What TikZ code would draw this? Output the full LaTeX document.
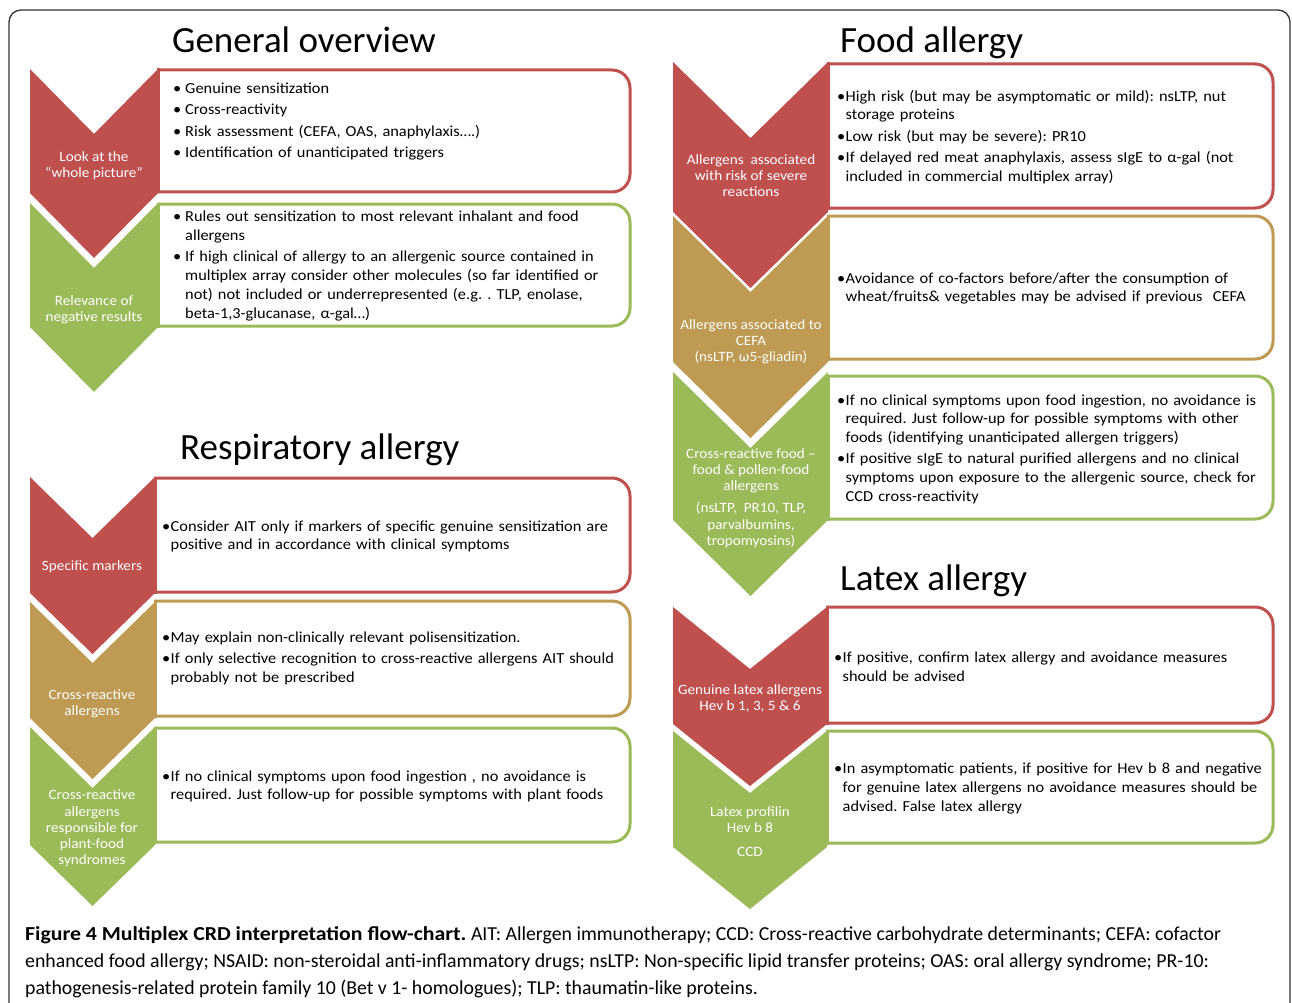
\documentclass[tikz,border=0pt]{standalone}
\usepackage{fontspec}
\setmainfont{Carlito}
\newfontfamily\bodyfont[FakeStretch=1.07]{Carlito}
\definecolor{cred}{HTML}{C0504D}
\definecolor{ctan}{HTML}{BE9A52}
\definecolor{cgrn}{HTML}{9BBB59}
\definecolor{frame}{HTML}{333333}
\frenchspacing
% chevron: colour, left, right, top, side bottom, depth
\newcommand\chev[6]{%
  \fill[#1] (#2,#4) -- ({(#2+#3)/2},{#4+#6}) -- (#3,#4) -- (#3,#5)
     -- ({(#2+#3)/2},{#5+#6}) -- (#2,#5) -- cycle;}
% text box: colour, x1, x2, y1, y2
\newcommand\tbox[5]{%
  \begin{scope}
    \clip ({#2-1},{#4-5}) rectangle ({#3+5},{#5+5});
    \draw[#1, line width=3pt, fill=white, rounded corners=18pt] ({#2-40},#4) rectangle (#3,#5);
  \end{scope}
  \draw[#1, line width=3pt] (#2,{#4-1.5}) -- (#2,{#5+1.5});}
\newcommand\gb[1]{\par\hangindent=12pt\hangafter=1\noindent\makebox[12pt][l]{•}#1\par}
\newcommand\tb[1]{\par\hangindent=8.5pt\hangafter=1\noindent\makebox[8.5pt][l]{•}#1\par}
\begin{document}
\begin{tikzpicture}[x=1pt,y=-1pt,
  title/.style={anchor=base west, inner sep=0pt, font=\fontsize{37pt}{40pt}\selectfont},
  body/.style={anchor=west, inner sep=0pt, align=left, text width=#1, yshift=3.8pt,
     font=\bodyfont\fontsize{15.3pt}{18.7pt}\selectfont\frenchspacing\setlength{\parskip}{2.6pt}},
  chevtext/.style={white, inner sep=0pt, align=center, yshift=-1.5pt,
     font=\bodyfont\fontsize{14.2pt}{16.2pt}\selectfont},
  capline/.style={anchor=base west, inner sep=0pt, font=\fontsize{19.8pt}{22pt}\selectfont\frenchspacing}]
\useasboundingbox (0,0) rectangle (1292,1003);
\fill[white] (0,0) rectangle (1292,1003);
\begin{scope}
\clip (0,0) rectangle (1292,1003);
\draw[frame, line width=1.3pt, rounded corners=12pt] (9,10) rectangle (1290,1060);
\end{scope}

% ---------- General overview ----------
\node[title] (tgen) at (172,53) {General overview};
\tbox{cred}{158}{630}{70}{192}
\tbox{cgrn}{158}{630}{204}{326}
\chev{cred}{30}{158}{69}{193}{65}
\chev{cgrn}{30}{158}{203}{327}{65}
\node[chevtext] (cg1) at (94,164) {Look at the\\“whole picture”};
\node[chevtext] (cg2) at (94,308) {Relevance of\\negative results};
\node[body=520pt] (bg1) at (173,120) {%
\gb{Genuine sensitization}
\gb{Cross-reactivity}
\gb{Risk assessment (CEFA, OAS, anaphylaxis….)}
\gb{Identification of unanticipated triggers}};
\node[body=520pt] (bg2) at (173,264.5) {%
\gb{Rules out sensitization to most relevant inhalant and food\newline allergens}
\gb{If high clinical of allergy to an allergenic source contained in\newline multiplex array consider other molecules (so far identified or\newline not) not included or underrepresented (e.g. . TLP, enolase,\newline beta-1,3-glucanase, α-gal…)}};

% ---------- Respiratory allergy ----------
\node[title] (tresp) at (180,459) {Respiratory allergy};
\tbox{cred}{155}{630}{478}{592}
\tbox{ctan}{155}{630}{601}{716}
\tbox{cgrn}{155}{630}{728}{842}
\chev{cred}{30}{155}{477}{593}{61}
\chev{ctan}{30}{155}{602}{718}{61}
\chev{cgrn}{30}{155}{727}{845}{61}
\node[chevtext] (cr1) at (92,565) {Specific markers};
\node[chevtext] (cr2) at (92,702) {Cross-reactive\\allergens};
\node[chevtext] (cr3) at (92,827) {Cross-reactive\\allergens\\responsible for\\plant-food\\syndromes};
\node[body=520pt] (br1) at (162,535) {%
\tb{Consider AIT only if markers of specific genuine sensitization are\newline positive and in accordance with clinical symptoms}};
\node[body=520pt] (br2) at (162,657) {%
\tb{May explain non-clinically relevant polisensitization.}
\tb{If only selective recognition to cross-reactive allergens AIT should\newline probably not be prescribed}};
\node[body=520pt] (br3) at (162,785) {%
\tb{If no clinical symptoms upon food ingestion , no avoidance is\newline required. Just follow-up for possible symptoms with plant foods}};

% ---------- Food allergy ----------
\node[title] (tfood) at (840,53) {Food allergy};
\tbox{cred}{828}{1273}{64}{208}
\tbox{ctan}{828}{1273}{216}{359}
\tbox{cgrn}{828}{1273}{376}{519}
\chev{cred}{673}{828}{62}{212}{76}
\chev{ctan}{673}{828}{216}{362}{76}
\chev{cgrn}{673}{828}{372}{520}{76}
\node[chevtext] (cf1) at (751,174) {Allergens\ \ associated\\with risk of severe\\reactions};
\node[chevtext] (cf2) at (751,340) {Allergens associated to\\CEFA\\(nsLTP, ω5-gliadin)};
\node[chevtext] (cf3) at (751,496.5) {Cross-reactive food –\\food \& pollen-food\\allergens\\[6pt](nsLTP,\ \ PR10, TLP,\\parvalbumins,\\tropomyosins)};
\node[body=500pt] (bf1) at (837,135.5) {%
\tb{High risk (but may be asymptomatic or mild): nsLTP, nut\newline storage proteins}
\tb{Low risk (but may be severe): PR10}
\tb{If delayed red meat anaphylaxis, assess sIgE to α-gal (not\newline included in commercial multiplex array)}};
\node[body=500pt] (bf2) at (837,287) {%
\tb{Avoidance of co-factors before/after the consumption of\newline wheat/fruits\& vegetables may be advised if previous\ \ CEFA}};
\node[body=500pt] (bf3) at (837,447.5) {%
\tb{If no clinical symptoms upon food ingestion, no avoidance is\newline required. Just follow-up for possible symptoms with other\newline foods (identifying unanticipated allergen triggers)}
\tb{If positive sIgE to natural purified allergens and no clinical\newline symptoms upon exposure to the allergenic source, check for\newline CCD cross-reactivity}};

% ---------- Latex allergy ----------
\node[title] (tlatex) at (840,590) {Latex allergy};
\tbox{cred}{827}{1273}{607}{723}
\tbox{cgrn}{827}{1273}{731}{843}
\chev{cred}{673}{827}{607}{724}{62}
\chev{cgrn}{673}{827}{731}{847}{62}
\node[chevtext] (cl1) at (750,697) {Genuine latex allergens\\Hev b 1, 3, 5 \& 6};
\node[chevtext] (cl2) at (750,830) {Latex profilin\\Hev b 8\\[7pt]CCD};
\node[body=500pt] (bl1) at (834,665) {%
\tb{If positive, confirm latex allergy and avoidance measures\newline should be advised}};
\node[body=500pt] (bl2) at (834,787) {%
\tb{In asymptomatic patients, if positive for Hev b 8 and negative\newline for genuine latex allergens no avoidance measures should be\newline advised. False latex allergy}};

% ---------- Caption ----------
\node[capline] (cap1) at (25,940) {\scalebox{1.1}[1]{\textbf{Figure 4 Multiplex CRD interpretation flow-chart.}} AIT: Allergen immunotherapy; CCD: Cross-reactive carbohydrate determinants; CEFA: cofactor};
\node[capline] (cap2) at (25,967) {enhanced food allergy; NSAID: non-steroidal anti-inflammatory drugs; nsLTP: Non-specific lipid transfer proteins; OAS: oral allergy syndrome; PR-10:};
\node[capline] (cap3) at (25,994) {pathogenesis-related protein family 10 (Bet v 1- homologues); TLP: thaumatin-like proteins.};
\end{tikzpicture}
\end{document}
